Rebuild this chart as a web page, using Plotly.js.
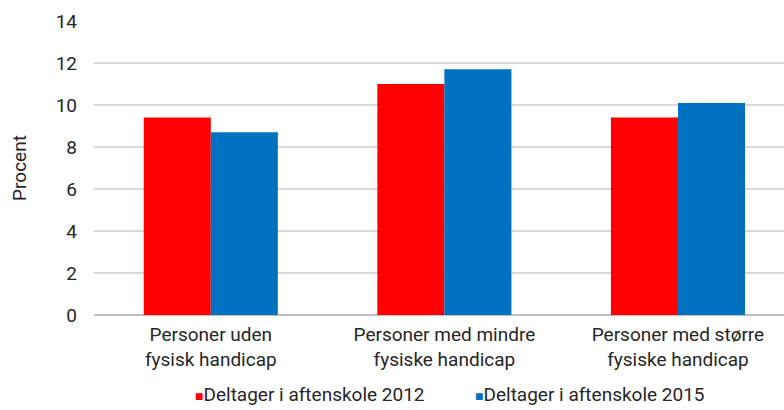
<!DOCTYPE html>
<html><head><meta charset="utf-8">
<script src="https://cdn.plot.ly/plotly-3.0.1.min.js"></script>
<style>html,body{margin:0;padding:0;background:#fff}#c{width:784px;height:410px}</style>
</head><body><div id="c"></div>
<script>
var categories = ["Personer uden<br>fysisk handicap", "Personer med mindre<br>fysiske handicap", "Personer med større<br>fysiske handicap"];
var series2012 = [9.4, 11.0, 9.4];
var series2015 = [8.7, 11.7, 10.1];
var seriesNames = ["Deltager i aftenskole 2012", "Deltager i aftenskole 2015"];
var seriesColors = ["#ff0000", "#0070c0"];
var yTicks = [0, 2, 4, 6, 8, 10, 12, 14];

var txt = "#262626";
var font = {family: "Roboto, 'Noto Sans', sans-serif", color: txt, size: 19};
var data = [
  {type: "bar", x: categories, y: series2012, name: seriesNames[0], marker: {color: seriesColors[0]}, hoverinfo: "none", showlegend: false},
  {type: "bar", x: categories, y: series2015, name: seriesNames[1], marker: {color: seriesColors[1]}, hoverinfo: "none", showlegend: false}
];
var legendX = [193, 473];
var annotations = seriesNames.map(function (n, i) {
  return {xref: "paper", yref: "paper", x: (legendX[i] - 94) / 690, y: -0.272, xanchor: "left", yanchor: "middle", showarrow: false,
    text: "<span style='color:" + seriesColors[i] + ";font-size:14px'>■</span>" + n, font: {size: 19, color: txt}};
});
var layout = {
  width: 784, height: 410,
  margin: {l: 94, r: 0, t: 21, b: 95},
  font: font,
  paper_bgcolor: "#fff", plot_bgcolor: "#fff",
  barmode: "group", bargap: 0.426, bargroupgap: 0,
  xaxis: {range: [-0.5, 2.454], showgrid: false, zeroline: false, showline: false, ticks: "", automargin: false,
          tickfont: {size: 19, color: txt}, ticklabelstandoff: 6, fixedrange: true},
  yaxis: {range: [0, 14], tickvals: yTicks, ticktext: yTicks.map(String), showgrid: true, gridcolor: "#d9d9d9", gridwidth: 1.5,
          zeroline: true, zerolinecolor: "#bfbfbf", zerolinewidth: 1.5, showline: false, ticks: "", automargin: false,
          ticklabelstandoff: 16, tickfont: {size: 19, color: txt},
          title: {text: "Procent", font: {size: 19, color: txt}, standoff: 23}},
  annotations: annotations,
  showlegend: false
};
Plotly.newPlot("c", data, layout, {staticPlot: true});
</script></body></html>
